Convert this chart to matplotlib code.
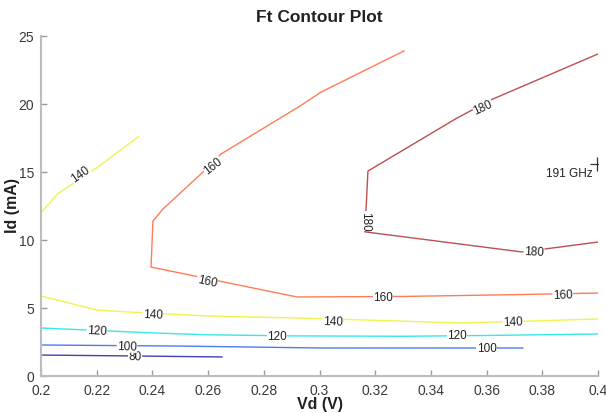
import matplotlib
matplotlib.use("Agg")
import matplotlib.pyplot as plt

plt.rcParams['font.family'] = ['Liberation Sans', 'DejaVu Sans']

# Contour paths (Vd [V], Id [mA]) per Ft level (GHz)
c80_x = [0.200, 0.230, 0.265]
c80_y = [1.54, 1.48, 1.40]

c100_x = [0.200, 0.250, 0.300, 0.373]
c100_y = [2.28, 2.20, 2.06, 2.06]

c120_x = [0.200, 0.220, 0.240, 0.260, 0.290, 0.330, 0.360, 0.400]
c120_y = [3.53, 3.35, 3.17, 3.03, 2.95, 2.92, 2.98, 3.09]

c140a_x = [0.200, 0.2201, 0.232, 0.2607, 0.293, 0.3289, 0.3505, 0.3756, 0.400]
c140a_y = [5.88, 4.85, 4.70, 4.41, 4.26, 4.04, 3.90, 4.04, 4.19]

c140b_x = [0.200, 0.206, 0.220, 0.235]
c140b_y = [12.0, 13.4, 15.3, 17.6]

c160_x = [0.3303, 0.3006, 0.2930, 0.2646, 0.2582, 0.2438, 0.2402, 0.2395,
          0.2919, 0.3300, 0.3700, 0.4000]
c160_y = [23.90, 20.88, 19.85, 16.32, 15.00, 12.28, 11.40, 8.01,
          5.81, 5.85, 5.98, 6.10]

c180_x = [0.4000, 0.3623, 0.3494, 0.3174, 0.3163, 0.3727, 0.4000]
c180_y = [23.68, 20.37, 18.97, 15.07, 10.60, 9.12, 9.85]

levels = [80, 100, 120, 140, 140, 160, 180]
paths_x = [c80_x, c100_x, c120_x, c140a_x, c140b_x, c160_x, c180_x]
paths_y = [c80_y, c100_y, c120_y, c140a_y, c140b_y, c160_y, c180_y]
level_colors = {80: '#4040b8', 100: '#4a7cf4', 120: '#38e6ee',
                140: '#f2f250', 160: '#ff7c56', 180: '#bb5050'}

# Inline contour labels
lab_text = ['80', '100', '100', '120', '120', '120', '140', '140', '140', '140',
            '160', '160', '160', '160', '180', '180', '180']
lab_x = [0.2338, 0.2309, 0.3601, 0.2201, 0.2847, 0.3494, 0.2402, 0.3048, 0.3695, 0.2140,
         0.2596, 0.3228, 0.3874, 0.2618, 0.3587, 0.3162, 0.3770]
lab_y = [1.47, 2.20, 2.06, 3.31, 2.94, 3.01, 4.56, 4.04, 3.97, 14.85,
         6.99, 5.81, 5.96, 15.44, 19.78, 11.40, 9.12]
lab_rot = [-2, -2, 0, -3, 0, 0, -2, -2, 2, 35,
           -12, 0, 2, 38, 25, -90, -3]

# Maximum point
max_x = [0.3996]
max_y = [15.6]
max_label = '191 GHz'

fig = plt.figure(figsize=(6.06, 4.14), dpi=100)
ax = fig.add_axes([41/606, 37/414, 557/606, 340/414])

for lv, xs, ys in zip(levels, paths_x, paths_y):
    ax.plot(xs, ys, color=level_colors[lv], lw=1.0, solid_joinstyle='miter')

for t, x, y, r in zip(lab_text, lab_x, lab_y, lab_rot):
    ax.text(x, y, t, rotation=r, ha='center', va='center', fontsize=8.5,
            color='#222222', rotation_mode='anchor',
            bbox=dict(facecolor='white', edgecolor='none', pad=0.3))

ax.plot(max_x, max_y, marker='+', color='#333333', markersize=10, mew=0.9, ls='none')
ax.text(max_x[0] - 0.0015, max_y[0] - 0.7, max_label, ha='right', va='center',
        fontsize=8.5, color='#222222')

ax.set_xlim(0.2, 0.4)
ax.set_ylim(0, 25)
xt = [0.2, 0.22, 0.24, 0.26, 0.28, 0.3, 0.32, 0.34, 0.36, 0.38, 0.4]
ax.set_xticks(xt)
ax.set_xticklabels(['0.2', '0.22', '0.24', '0.26', '0.28', '0.3', '0.32', '0.34',
                    '0.36', '0.38', '0.4'])
ax.set_yticks([0, 5, 10, 15, 20, 25])
for s in ['top', 'right']:
    ax.spines[s].set_visible(False)
for s in ['left', 'bottom']:
    ax.spines[s].set_color('#bdbdbd')
    ax.spines[s].set_linewidth(1.5)
ax.tick_params(direction='in', length=4, width=1, color='#9a9a9a',
               labelsize=10, labelcolor='#3a3a3a', pad=5)

fig.text(319.5/606, 1 - 17/414, 'Ft Contour Plot', ha='center', va='center',
         fontsize=12.5, fontweight='bold', color='#222222')
fig.text(320/606, 1 - 405/414, 'Vd (V)', ha='center', va='center',
         fontsize=11.5, fontweight='bold', color='#222222')
fig.text(13/606, 1 - 206/414, 'Id (mA)', ha='center', va='center', rotation=90,
         fontsize=11.5, fontweight='bold', color='#222222')

fig.savefig('out.png', dpi=100)
